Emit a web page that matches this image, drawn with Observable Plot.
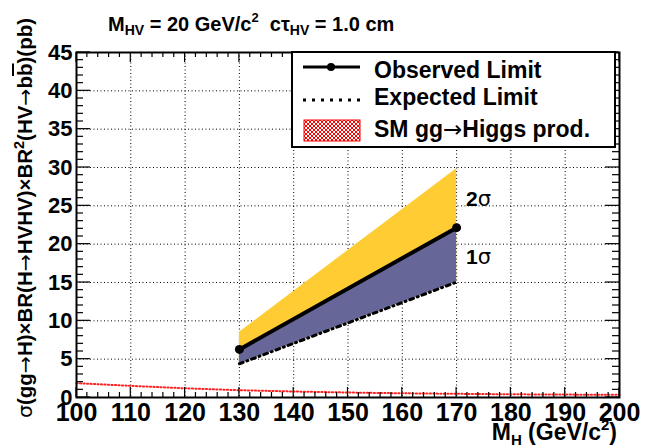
<!DOCTYPE html>
<html><head><meta charset="utf-8">
<script src="https://cdn.jsdelivr.net/npm/d3@7"></script>
<script src="https://cdn.jsdelivr.net/npm/@observablehq/plot@0.6"></script>
<style>body{margin:0;background:#fff}</style>
</head><body><div id="chart"></div>
<script>
// ---- data ----
const massPoints = [130, 170];
const observedLimit = [6.27, 22.15];
const expectedLimit = [4.4, 15.05];
const band1Upper = [6.3, 22.2];
const band2Upper = [8.5, 29.85];
const smMass = [100, 110, 120, 130, 140, 150, 160, 170, 180, 190, 200];
const smXsec = [1.87, 1.52, 1.2, 0.95, 0.78, 0.65, 0.55, 0.48, 0.42, 0.38, 0.35];
const xTicks = [100, 110, 120, 130, 140, 150, 160, 170, 180, 190, 200];
const yTicks = [0, 5, 10, 15, 20, 25, 30, 35, 40, 45];
const xMinorStep = 2;
const yMinorStep = 1;
const legendLabels = ["Observed Limit", "Expected Limit", "SM gg\u2192Higgs prod."];

const limits = massPoints.map((m, i) => ({m, obs: observedLimit[i], exp: expectedLimit[i], b1: band1Upper[i], b2: band2Upper[i]}));
const sm = smMass.map((m, i) => ({m, xs: smXsec[i]}));
const FONT = "'Liberation Sans', Arial, Helvetica, sans-serif";
const SYM = "'DejaVu Sans', sans-serif";

const plot = Plot.plot({
  width: 650, height: 448,
  marginLeft: 76, marginRight: 31, marginTop: 52, marginBottom: 51,
  style: {fontFamily: FONT, fontWeight: "bold", background: "white", overflow: "visible", color: "black"},
  x: {domain: [100, 200]},
  y: {domain: [0, 45]},
  marks: [
    Plot.gridX(xTicks.slice(1, -1), {stroke: "black", strokeOpacity: 1, strokeWidth: 1, strokeDasharray: "1,2.5"}),
    Plot.gridY(yTicks.slice(1, -1), {stroke: "black", strokeOpacity: 1, strokeWidth: 1, strokeDasharray: "1,2.5"}),
    Plot.areaY(limits, {x: "m", y1: "exp", y2: "b2", fill: "#ffcc33"}),
    Plot.areaY(limits, {x: "m", y1: "exp", y2: "b1", fill: "#666699"}),
    Plot.line(sm, {x: "m", y: "xs", stroke: "#ff2020", strokeWidth: 2, strokeDasharray: "1.2,2.3"}),
    Plot.line(limits, {x: "m", y: "exp", stroke: "black", strokeWidth: 3, strokeDasharray: "4,4,1,4"}),
    Plot.line(limits, {x: "m", y: "obs", stroke: "black", strokeWidth: 4}),
    Plot.dot(limits, {x: "m", y: "obs", r: 4.5, fill: "black"}),
    Plot.axisX(xTicks, {tickSize: 0, tickPadding: 6, fontSize: 25, fontWeight: "bold", fill: "black", label: null}),
    Plot.axisY(yTicks, {tickSize: 0, tickPadding: 4, fontSize: 22, fontWeight: "bold", fill: "black", label: null}),
    Plot.frame({stroke: "black", strokeWidth: 2})
  ]
});
document.getElementById("chart").appendChild(plot);

const sx = plot.scale("x"), sy = plot.scale("y");
const X = v => sx.apply(v), Y = v => sy.apply(v);
const svg = d3.select(plot);
const x0 = X(100), x1 = X(200), y0 = Y(0), y1 = Y(45);

// inward ticks on all four sides
const tg = svg.append("g").attr("stroke", "black").attr("stroke-width", 1.2);
for (let v = 100; v <= 200; v += xMinorStep) {
  const major = (v % 10 === 0);
  const L = major ? 10 : 5;
  tg.append("line").attr("x1", X(v)).attr("x2", X(v)).attr("y1", y0).attr("y2", y0 - L);
  tg.append("line").attr("x1", X(v)).attr("x2", X(v)).attr("y1", y1).attr("y2", y1 + L);
}
for (let v = 0; v <= 45; v += yMinorStep) {
  const major = (v % 5 === 0);
  const L = major ? 14 : 7;
  tg.append("line").attr("y1", Y(v)).attr("y2", Y(v)).attr("x1", x0).attr("x2", x0 + L);
  tg.append("line").attr("y1", Y(v)).attr("y2", Y(v)).attr("x1", x1).attr("x2", x1 - L);
}

// hatch pattern
const defs = svg.append("defs");
const pat = defs.append("pattern").attr("id", "hatch").attr("patternUnits", "userSpaceOnUse")
  .attr("width", 4).attr("height", 4);
pat.append("rect").attr("width", 4).attr("height", 4).attr("fill", "white");
pat.append("path").attr("d", "M0,0L4,4M4,0L0,4").attr("stroke", "#ff0000").attr("stroke-width", 1);

const txt = (sel) => sel.append("text").attr("font-family", FONT).attr("font-weight", "bold")
  .attr("text-anchor", "start").attr("fill", "black");
// write a string, putting arrows and sigmas into a symbol font
const rich = (node, s) => {
  s.split(/([\u2192\u03c3])/).forEach(part => {
    if (!part) return;
    const t = node.append("tspan").text(part);
    if (part === "\u2192" || part === "\u03c3") t.attr("font-family", SYM).attr("font-weight", "normal");
  });
  return node;
};

// legend
const lg = svg.append("g");
lg.append("rect").attr("x", 292).attr("y", 52).attr("width", 323).attr("height", 95)
  .attr("fill", "white").attr("stroke", "black").attr("stroke-width", 2);
lg.append("line").attr("x1", 303).attr("x2", 360).attr("y1", 67).attr("y2", 67).attr("stroke", "black").attr("stroke-width", 3);
lg.append("circle").attr("cx", 331).attr("cy", 67).attr("r", 4).attr("fill", "black");
lg.append("line").attr("x1", 303).attr("x2", 360).attr("y1", 100).attr("y2", 100).attr("stroke", "black").attr("stroke-width", 3).attr("stroke-dasharray", "3,6");
lg.append("rect").attr("x", 304).attr("y", 120).attr("width", 56).attr("height", 21).attr("fill", "url(#hatch)").attr("stroke", "#ff0000").attr("stroke-width", 1);
const lbY = [77.5, 105, 136.5];
legendLabels.forEach((t, i) => {
  rich(txt(lg).attr("x", 374).attr("y", lbY[i]).attr("font-size", 23), t);
});

// title
const tt = txt(svg).attr("x", 108).attr("y", 31).attr("font-size", 20);
tt.append("tspan").text("M");
tt.append("tspan").attr("font-size", 14).attr("dy", 4).text("HV");
tt.append("tspan").attr("dy", -4).text(" = 20 GeV/c");
tt.append("tspan").attr("font-size", 13).attr("dy", -9).text("2");
tt.append("tspan").attr("dy", 9).text("\u00a0\u00a0c\u03c4");
tt.append("tspan").attr("font-size", 14).attr("dy", 4).text("HV");
tt.append("tspan").attr("dy", -4).text(" = 1.0 cm");

// x label
const xl = txt(svg).attr("x", 617).attr("y", 440).attr("text-anchor", "end").attr("font-size", 23);
xl.append("tspan").text("M");
xl.append("tspan").attr("font-size", 15).attr("dy", 5).text("H");
xl.append("tspan").attr("dy", -5).text(" (GeV/c");
xl.append("tspan").attr("font-size", 15).attr("dy", -10).text("2");
xl.append("tspan").attr("dy", 10).text(")");

// y label
const yl = txt(svg).attr("transform", "translate(32,418) rotate(-90)").attr("font-size", 20)
  .attr("textLength", 400).attr("lengthAdjust", "spacingAndGlyphs");
rich(yl, "\u03c3(gg\u2192H)\u00d7BR(H\u2192HVHV)\u00d7BR");
yl.append("tspan").attr("font-size", 14).attr("dy", -8).text("2");
rich(yl.append("tspan").attr("dy", 8), "(HV\u2192b");
yl.append("tspan").style("text-decoration", "overline").text("b");
yl.append("tspan").text(")(pb)");

// sigma annotations
rich(txt(svg).attr("x", 466).attr("y", 205.5).attr("font-size", 21), "2\u03c3");
rich(txt(svg).attr("x", 466).attr("y", 264).attr("font-size", 21), "1\u03c3");
</script></body></html>
